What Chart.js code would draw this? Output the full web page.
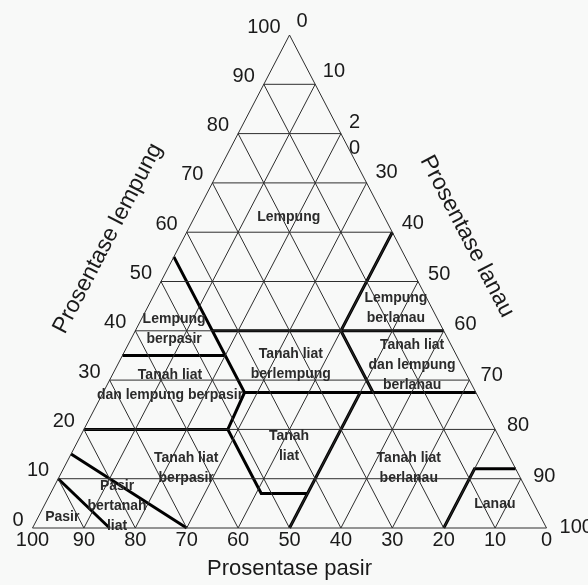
<!DOCTYPE html>
<html>
<head>
<meta charset="utf-8">
<script src="https://cdn.jsdelivr.net/npm/chart.js@4"></script>
<style>
  html, body { margin: 0; padding: 0; background: #f8f9f8; }
  #wrap { width: 588px; height: 585px; }
</style>
</head>
<body>
<div id="wrap"><canvas id="segitiga" width="588" height="585"></canvas></div>
<script>
// tick labels of the three sides
var pasirTicks = [100, 90, 80, 70, 60, 50, 40, 30, 20, 10, 0];
var lempungTicks = [0, 10, 20, 30, 40, 50, 60, 70, 80, 90, 100];
var lanauTicks = [0, 10, 20, 30, 40, 50, 60, 70, 80, 90, 100];
var lanauTickText = ['0', '10', '2\n0', '30', '40', '50', '60', '70', '80', '90', '100'];
var gridSteps = [10, 20, 30, 40, 50, 60, 70, 80, 90];

// class boundaries, points as [pasir, lempung]
var batasPasir = [[85, 0], [90, 10]];
var batasPasirBertanahLiat = [[70, 0], [85, 15]];
var batasLiatBerpasir = [[80, 20], [52, 20]];
var batasLempungBerpasir = [[65, 35], [45, 35]];
var batasBarat = [[45, 55], [45, 27.5], [52, 20], [52, 7], [43, 7]];
var batasLiat = [[22.5, 27.5], [50, 0]];
var garis40 = [[45, 40], [0, 40]];
var garis27 = [[45, 27.5], [0, 27.5]];
var batasLempungBerlanau = [[0, 60], [20, 40], [20, 27.5]];
var batasLanau = [[20, 0], [8, 12], [0, 12]];

// class names and where they sit [pasir, lempung]
var namaKelas = [
    ['Lempung'],
    ['Lempung', 'berpasir'],
    ['Lempung', 'berlanau'],
    ['Tanah liat', 'berlempung'],
    ['Tanah liat', 'dan lempung', 'berlanau'],
    ['Tanah liat', 'dan lempung berpasir'],
    ['Tanah', 'liat'],
    ['Tanah liat', 'berpasir'],
    ['Tanah liat', 'berlanau'],
    ['Lanau'],
    ['Pasir'],
    ['Pasir', 'bertanah', 'liat']
];
var letakKelas = [
    [18.6, 63.1], [52.3, 40.3], [7.0, 44.6], [33.1, 33.3], [9.6, 33.1], [58.8, 28.9],
    [41.8, 16.6], [64.0, 12.2], [20.7, 12.2], [7.6, 4.9], [93.1, 2.2], [81.3, 4.5]
];

// ternary -> chart units: x = lanau + lempung/2, y = lempung
function toXY(pasir, lempung) {
    var lanau = 100 - pasir - lempung;
    return { x: lanau + lempung / 2, y: lempung };
}

function garis(points, tebal) {
    return {
        data: points.map(function (p) { return toXY(p[0], p[1]); }),
        showLine: true,
        borderColor: tebal ? '#000' : '#2e2e2e',
        borderWidth: tebal ? 3 : 1,
        pointRadius: 0,
        tension: 0,
        fill: false
    };
}

var datasets = [];
// thin grid
gridSteps.forEach(function (k) {
    datasets.push(garis([[100 - k, k], [0, k]], false));      // lempung const
    datasets.push(garis([[k, 0], [k, 100 - k]], false));      // pasir const
    datasets.push(garis([[100 - k, 0], [0, 100 - k]], false)); // lanau const
});
// outline
datasets.push(garis([[100, 0], [0, 100], [0, 0], [100, 0]], false));
// thick boundaries
[batasPasir, batasPasirBertanahLiat, batasLiatBerpasir, batasLempungBerpasir, batasBarat,
 batasLiat, garis40, garis27, batasLempungBerlanau, batasLanau].forEach(function (b) {
    datasets.push(garis(b, true));
});

var teksPlugin = {
    id: 'teks',
    beforeDraw: function (chart) {
        var ctx = chart.ctx;
        ctx.save();
        ctx.fillStyle = '#f8f9f8';
        ctx.fillRect(0, 0, chart.width, chart.height);
        ctx.restore();
    },
    afterDatasetsDraw: function (chart) {
        var ctx = chart.ctx;
        var sx = chart.scales.x, sy = chart.scales.y;
        function px(pasir, lempung) {
            var p = toXY(pasir, lempung);
            return [sx.getPixelForValue(p.x), sy.getPixelForValue(p.y)];
        }
        ctx.save();
        ctx.fillStyle = '#1a1a1a';
        ctx.font = '20px "Liberation Sans", Arial, sans-serif';
        ctx.textBaseline = 'middle';

        // bottom: pasir
        ctx.textAlign = 'center';
        pasirTicks.forEach(function (v) {
            var p = px(v, 0);
            ctx.fillText(String(v), p[0], p[1] + 12);
        });
        // left: lempung
        ctx.textAlign = 'right';
        lempungTicks.forEach(function (v) {
            var p = px(100 - v, v);
            ctx.fillText(String(v), p[0] - 9, p[1] - 8);
        });
        // right: lanau
        ctx.textAlign = 'left';
        lanauTicks.forEach(function (v, i) {
            var p = px(0, 100 - v);
            var lines = lanauTickText[i].split('\n');
            var dx = 7 + v * 0.06, dy = -14 + v * 0.13;
            lines.forEach(function (t, j) {
                ctx.fillText(t, p[0] + dx, p[1] + dy + j * 26);
            });
        });

        // axis titles
        var bl = px(100, 0), br = px(0, 0), top = px(0, 100);
        ctx.textAlign = 'center';
        ctx.font = '23px "Liberation Sans", Arial, sans-serif';
        var ml = px(50, 50);
        ctx.save();
        ctx.translate(ml[0] - 53, ml[1] - 43);
        ctx.rotate(Math.atan2(top[1] - bl[1], top[0] - bl[0]));
        ctx.fillText('Prosentase lempung', 0, 0);
        ctx.restore();
        var mr = px(0, 50);
        ctx.save();
        ctx.translate(mr[0] + 49, mr[1] - 45);
        ctx.rotate(Math.atan2(br[1] - top[1], br[0] - top[0]));
        ctx.fillText('Prosentase lanau', 0, 0);
        ctx.restore();
        ctx.font = '22px "Liberation Sans", Arial, sans-serif';
        var mb = px(50, 0);
        ctx.fillText('Prosentase pasir', mb[0], mb[1] + 41);

        // class names
        ctx.font = 'bold 14px "Liberation Sans", Arial, sans-serif';
        ctx.fillStyle = '#2b2b2b';
        namaKelas.forEach(function (nama, i) {
            var p = px(letakKelas[i][0], letakKelas[i][1]);
            var lh = 20;
            var y0 = p[1] - (nama.length - 1) * lh / 2;
            nama.forEach(function (t, j) {
                ctx.fillText(t, p[0], y0 + j * lh);
            });
        });
        ctx.restore();
    }
};

var ctx = document.getElementById('segitiga').getContext('2d');
var chart = new Chart(ctx, {
    type: 'scatter',
    data: { datasets: datasets },
    options: {
        responsive: false,
        animation: false,
        layout: { padding: 0 },
        plugins: { legend: { display: false }, tooltip: { enabled: false } },
        scales: {
            x: { type: 'linear', display: false, min: -6.323, max: 108.07 },
            y: { type: 'linear', display: false, min: -11.56, max: 107.10 }
        }
    },
    plugins: [teksPlugin]
});
</script>
</body>
</html>
